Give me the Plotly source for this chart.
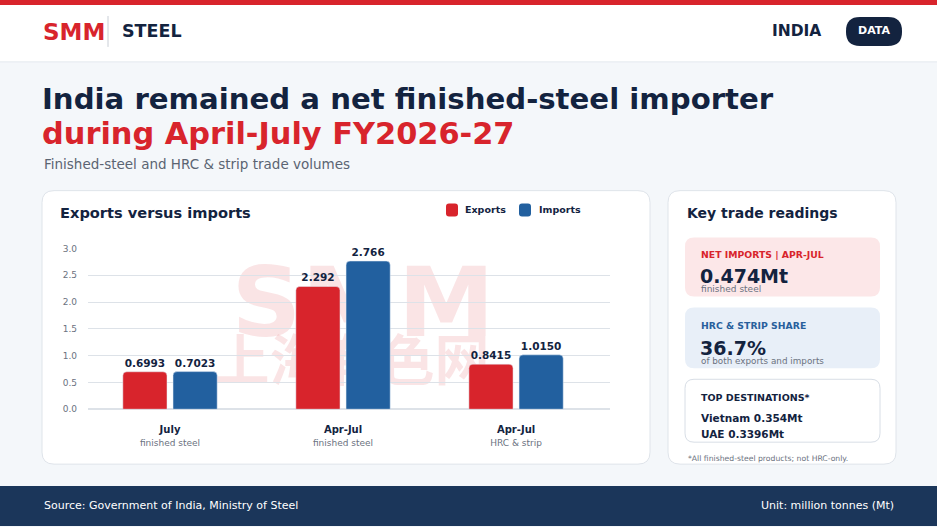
import plotly.graph_objects as go

# Data
categories = ["July", "Apr-Jul", "Apr-Jul HRC"]
cat_main = ["July", "Apr-Jul", "Apr-Jul"]
cat_sub = ["finished steel", "finished steel", "HRC & strip"]
exports = [0.6993, 2.292, 0.8415]
imports = [0.7023, 2.766, 1.0150]
export_labels = ["0.6993", "2.292", "0.8415"]
import_labels = ["0.7023", "2.766", "1.0150"]
y_ticks = [0.0, 0.5, 1.0, 1.5, 2.0, 2.5, 3.0]

W, H = 937, 527
FIG_H = 536  # page is drawn a touch taller and pinned slightly above the top edge
RED = "#d8242c"
BLUE = "#22609f"
NAVY = "#13233f"
GREY = "#6b7280"
FONT = "DejaVu Sans"
WM = "rgba(216,36,44,0.12)"


def px(x):
    return x / W


def py(y):
    return 1 - y / H


def rrect(x0, y0, x1, y1, r, fill, line=None):
    # rounded rectangle path in paper coords (pixel inputs)
    p = (f"M {px(x0 + r)},{py(y0)} L {px(x1 - r)},{py(y0)} "
         f"Q {px(x1)},{py(y0)} {px(x1)},{py(y0 + r)} L {px(x1)},{py(y1 - r)} "
         f"Q {px(x1)},{py(y1)} {px(x1 - r)},{py(y1)} L {px(x0 + r)},{py(y1)} "
         f"Q {px(x0)},{py(y1)} {px(x0)},{py(y1 - r)} L {px(x0)},{py(y0 + r)} "
         f"Q {px(x0)},{py(y0)} {px(x0 + r)},{py(y0)} Z")
    return dict(type="path", xref="paper", yref="paper", path=p,
                fillcolor=fill, line=dict(color=line or fill, width=1 if line else 0),
                layer="below")


def txt(x, y, s, size, color=NAVY, bold=False, anchor="left", font=FONT):
    return dict(xref="paper", yref="paper", x=px(x), y=py(y), text=f"<b>{s}</b>" if bold else s,
                showarrow=False, xanchor=anchor, yanchor="middle",
                font=dict(family=font, size=size, color=color))


def watermark(x0, y0, x1, y1, s, size, family):
    # invisible box whose label sits between the gridlines and the bars
    return dict(type="rect", xref="paper", yref="paper", x0=px(x0), x1=px(x1), y0=py(y1), y1=py(y0),
                line_width=0, fillcolor="rgba(0,0,0,0)", layer="between",
                label=dict(text=s, textposition="middle center",
                           font=dict(family=family, size=size, color=WM)))


fig = go.Figure()
fig.add_trace(go.Bar(x=categories, y=exports, name="Exports", marker_color=RED,
                     text=export_labels, textposition="outside", cliponaxis=False,
                     textfont=dict(family=FONT, size=10.5, color=NAVY)))
fig.add_trace(go.Bar(x=categories, y=imports, name="Imports", marker_color=BLUE,
                     text=import_labels, textposition="outside", cliponaxis=False,
                     textfont=dict(family=FONT, size=10.5, color=NAVY)))
fig.update_traces(texttemplate="<b>%{text}</b>")

ticktext = [f"<b>{m}</b><br><span style='font-size:9px;color:{GREY}'>{s}</span>"
            for m, s in zip(cat_main, cat_sub)]

shapes = [
    dict(type="rect", xref="paper", yref="paper", x0=0, x1=1, y0=py(62), y1=py(5),
         fillcolor="white", line_width=0, layer="below"),
    dict(type="rect", xref="paper", yref="paper", x0=0, x1=1, y0=py(5), y1=1,
         fillcolor=RED, line_width=0, layer="below"),
    dict(type="line", xref="paper", yref="paper", x0=0, x1=1, y0=py(62), y1=py(62),
         line=dict(color="#e3e8ee", width=1), layer="below"),
    dict(type="line", xref="paper", yref="paper", x0=px(108), x1=px(108), y0=py(16), y1=py(47),
         line=dict(color="#c9ced6", width=1), layer="below"),
    rrect(846, 17, 902, 46, 14, NAVY),
    rrect(42, 191, 650, 465, 12, "white", "#dfe4ea"),
    rrect(668, 191, 896, 465, 12, "white", "#dfe4ea"),
    rrect(685, 238, 880, 297, 9, "#fce7e8"),
    rrect(685, 308, 880, 369, 9, "#e8eff8"),
    rrect(685, 380, 880, 443, 9, "white", "#d8dee6"),
    # legend swatches
    rrect(446, 204, 458, 217, 3, RED),
    rrect(519, 204, 531, 217, 3, BLUE),
    dict(type="rect", xref="paper", yref="paper", x0=0, x1=1, y0=0, y1=py(487),
         fillcolor="#1b365a", line_width=0, layer="below"),
    watermark(215, 256, 511, 336, "<b>SMM</b>", 97, FONT),
    watermark(200, 342, 504, 390, "<b>上海有色网</b>", 55, "Noto Sans CJK SC"),
]

annotations = [
    txt(41, 32, "SMM", 23, RED, True),
    txt(120, 31, "STEEL", 17.5, NAVY, True),
    txt(823, 31, "INDIA", 15.5, NAVY, True, "right"),
    txt(874, 31, "DATA", 11, "white", True, "center"),
    txt(40, 99, "India remained a net finished-steel importer", 29.2, NAVY, True),
    txt(40, 134, "during April-July FY2026-27", 30.4, RED, True),
    txt(42, 164, "Finished-steel and HRC &amp; strip trade volumes", 13.5, "#5b6472"),
    txt(58, 213, "Exports versus imports", 14.6, NAVY, True),
    txt(463, 210, "Exports", 9.5, NAVY, True),
    txt(537, 210, "Imports", 9.5, NAVY, True),
    txt(685, 213, "Key trade readings", 14, NAVY, True),
    txt(699, 255, "NET IMPORTS | APR-JUL", 9.3, RED, True),
    txt(698, 277, "0.474Mt", 19, NAVY, True),
    txt(699, 290, "finished steel", 9, GREY),
    txt(699, 326, "HRC &amp; STRIP SHARE", 9.3, "#285f9c", True),
    txt(698, 349, "36.7%", 19, NAVY, True),
    txt(699, 362, "of both exports and imports", 8.8, GREY),
    txt(699, 398, "TOP DESTINATIONS*", 9.5, NAVY, True),
    txt(699, 419, "Vietnam 0.354Mt", 10.5, NAVY, True),
    txt(699, 435, "UAE 0.3396Mt", 10.5, NAVY, True),
    txt(686, 459, "*All finished-steel products; not HRC-only.", 7.7, GREY),
    txt(42, 506, "Source: Government of India, Ministry of Steel", 11, "white"),
    txt(896, 506, "Unit: million tonnes (Mt)", 11, "white", False, "right"),
]

fig.update_layout(
    width=W, height=FIG_H,
    margin=dict(l=0, r=0, t=0, b=0),
    paper_bgcolor="#f4f7fa",
    plot_bgcolor="rgba(0,0,0,0)",
    barmode="group", bargap=0.42, bargroupgap=0.12, barcornerradius=4,
    font=dict(family=FONT, color=NAVY),
    shapes=shapes,
    annotations=annotations,
    showlegend=False,
    xaxis=dict(domain=[px(88), px(610)], range=[-0.474, 2.543], tickmode="array",
               tickvals=categories, ticktext=ticktext,
               tickfont=dict(family=FONT, size=10, color=NAVY),
               showgrid=False, showline=False, ticks="", ticklabelstandoff=13),
    yaxis=dict(domain=[py(410), py(249)], range=[0, 3.0], tickvals=y_ticks,
               tickformat=".1f", tickfont=dict(family=FONT, size=9, color=GREY),
               gridcolor="#dde2e8", zeroline=True, zerolinecolor="#dde2e8",
               showline=False, ticks="", ticklabelstandoff=10),
)

pin = ("document.documentElement.style.overflow='hidden';"
       "document.body.style.margin='0';document.body.style.overflow='hidden';"
       "var d=document.getElementById('{plot_id}');"
       "d.style.position='fixed';d.style.top='-4.6px';d.style.left='0px';")
fig.write_html("out.html", config={"displayModeBar": False}, post_script=pin)
